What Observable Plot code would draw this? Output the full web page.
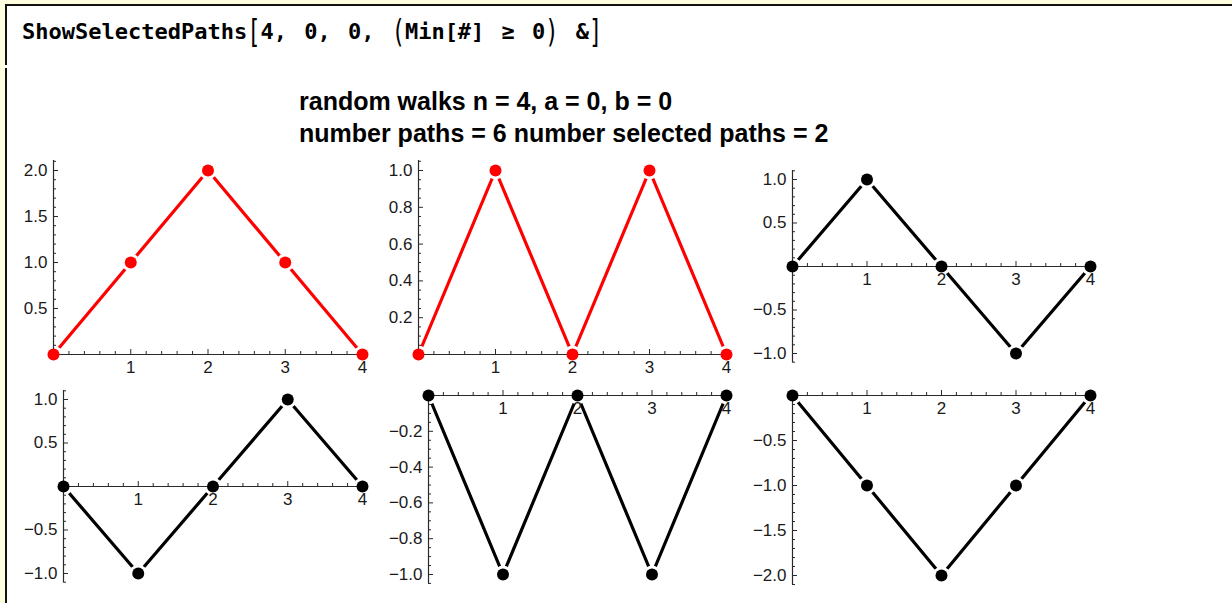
<!DOCTYPE html>
<html>
<head>
<meta charset="utf-8">
<script src="https://cdn.jsdelivr.net/npm/d3@7"></script>
<script src="https://cdn.jsdelivr.net/npm/@observablehq/plot@0.6"></script>
<style>
  body { margin: 0; background: #fff; }
  #page { position: relative; width: 1232px; height: 603px; overflow: hidden; background: #fff;
          font-family: "Liberation Sans", Arial, sans-serif; }
  .strip-top { position: absolute; left: 0; top: 0; width: 1232px; height: 4px; background: #fffde0; }
  .strip-left { position: absolute; left: 0; top: 0; width: 5px; height: 603px; background: #fffde0; }
  .rule-top { position: absolute; left: 5px; top: 4px; width: 1227px; height: 2px; background: #111; }
  .rule-left-a { position: absolute; left: 5px; top: 4px; width: 2px; height: 61px; background: #111; }
  .rule-left-b { position: absolute; left: 5px; top: 68px; width: 2px; height: 535px; background: #111; }
  #input { position: absolute; left: 22px; top: 19px; white-space: pre; color: #000; word-spacing: 4px;
           font: bold 22px "DejaVu Sans Mono", "Liberation Mono", monospace; }
  #input .br { display: inline-block; transform: scaleY(1.45); font-weight: normal; }
  #title { position: absolute; left: 299px; top: 85px; font: bold 25px "Liberation Sans", Arial, sans-serif;
           line-height: 32px; color: #000; white-space: pre; }
  .panel { position: absolute; }
</style>
</head>
<body>
<div id="page">
  <div class="strip-top"></div>
  <div class="strip-left"></div>
  <div class="rule-top"></div>
  <div class="rule-left-a"></div>
  <div class="rule-left-b"></div>
  <div id="input">ShowSelectedPaths<span class="br">[</span>4, 0, 0, <span class="br">(</span>Min[#] ≥ 0<span class="br">)</span> &amp;<span class="br">]</span></div>
  <div id="title">random walks n = 4, a = 0, b = 0
number paths = 6 number selected paths = 2</div>
</div>
<script>
// Steps of a walk of length 4 and the six walks drawn in the grid
const steps = [0, 1, 2, 3, 4];
const walkA = [0, 1, 2, 1, 0];
const walkB = [0, 1, 0, 1, 0];
const walkC = [0, 1, 0, -1, 0];
const walkD = [0, -1, 0, 1, 0];
const walkE = [0, -1, 0, -1, 0];
const walkF = [0, -1, -2, -1, 0];
const walks = [walkA, walkB, walkC, walkD, walkE, walkF];

// Walks that satisfy the selection rule Min[#] >= 0
const selected = [true, true, false, false, false, false];

// Tick labels
const xTickLabels = [1, 2, 3, 4];
const yTickLabels = [
  [0.5, 1.0, 1.5, 2.0],
  [0.2, 0.4, 0.6, 0.8, 1.0],
  [-1.0, -0.5, 0.5, 1.0],
  [-1.0, -0.5, 0.5, 1.0],
  [-1.0, -0.8, -0.6, -0.4, -0.2],
  [-2.0, -1.5, -1.0, -0.5]
];
const yMinorStep = [0.1, 0.05, 0.1, 0.1, 0.05, 0.1];

// Placement of each panel on the page (origin / extreme points in pixels)
const frames = [
  {left: 0,   top: 150, w: 368, h: 228, x0: 53,  x4: 362,  yTopPx: 170, yBotPx: 354, extUp: 10, extDown: 0},
  {left: 370, top: 150, w: 368, h: 228, x0: 418, x4: 726,  yTopPx: 170, yBotPx: 354, extUp: 10, extDown: 0},
  {left: 740, top: 150, w: 368, h: 228, x0: 792, x4: 1090, yTopPx: 179, yBotPx: 353, extUp: 9,  extDown: 9},
  {left: 0,   top: 378, w: 368, h: 225, x0: 63,  x4: 362,  yTopPx: 399, yBotPx: 573, extUp: 9,  extDown: 9},
  {left: 370, top: 378, w: 368, h: 225, x0: 428, x4: 726,  yTopPx: 395, yBotPx: 574, extUp: 0,  extDown: 9},
  {left: 740, top: 378, w: 368, h: 225, x0: 792, x4: 1090, yTopPx: 395, yBotPx: 575, extUp: 0,  extDown: 9}
];

const axisColor = "#2a2a2a";
const labelColor = "#1a1a1a";
const fmt = d => d.toFixed(1).replace("-", "\u2212");

function drawPanel(i) {
  const f = frames[i];
  const vals = walks[i];
  const data = steps.map((s, k) => ({step: s, value: vals[k]}));
  const color = selected[i] ? "#ff0000" : "#000000";
  const [ymin, ymax] = d3.extent(vals);
  const ppu = (f.yBotPx - f.yTopPx) / (ymax - ymin);
  const lo = ymin - f.extDown / ppu, hi = ymax + f.extUp / ppu;

  const majors = yTickLabels[i];
  const st = yMinorStep[i];
  const minorY = d3.range(Math.ceil(lo / st - 1e-6), Math.floor(hi / st + 1e-6) + 1)
    .map(k => +(k * st).toFixed(4))
    .filter(v => v !== 0 && !majors.some(m => Math.abs(m - v) < 1e-6));
  const minorX = d3.range(1, 20).map(k => +(k * 0.2).toFixed(4))
    .filter(v => Math.abs(v - Math.round(v)) > 1e-6);

  const svg = Plot.plot({
    width: f.w,
    height: f.h,
    marginLeft: f.x0 - f.left,
    marginRight: f.left + f.w - f.x4,
    marginTop: f.yTopPx - f.top,
    marginBottom: f.top + f.h - f.yBotPx,
    x: {domain: [0, 4], axis: null},
    y: {domain: [ymin, ymax], axis: null},
    style: {overflow: "visible", background: "transparent", fontFamily: "Liberation Sans, Arial, sans-serif"},
    marks: [
      Plot.line(data, {x: "step", y: "value", stroke: color, strokeWidth: 3.2, strokeLinecap: "butt"}),
      Plot.dot(data, {x: "step", y: "value", r: 9, fill: "white"}),
      // axes through the origin
      Plot.ruleY([0], {x1: 0, x2: 4, insetRight: -6, stroke: axisColor, strokeWidth: 1.2}),
      Plot.ruleX([0], {y1: ymin, y2: ymax, insetTop: f.extDown, insetBottom: f.extUp, stroke: axisColor, strokeWidth: 1.2}),
      // x ticks pointing up
      Plot.ruleX(minorX, {x: d => d, y1: 0, y2: 0, insetBottom: 3, stroke: axisColor}),
      Plot.ruleX(xTickLabels, {x: d => d, y1: 0, y2: 0, insetBottom: 5, stroke: axisColor}),
      // y ticks pointing right
      Plot.ruleY(minorY, {y: d => d, x1: 0, x2: 0, insetRight: -3, stroke: axisColor}),
      Plot.ruleY(majors, {y: d => d, x1: 0, x2: 0, insetRight: -5, stroke: axisColor}),
      Plot.text(xTickLabels, {x: d => d, y: 0, text: d => String(d), dy: 13, fontSize: 17, fill: labelColor}),
      Plot.text(majors, {x: 0, y: d => d, text: fmt, textAnchor: "end", dx: -6, fontSize: 17, fill: labelColor}),
      Plot.dot(data, {x: "step", y: "value", r: 6, fill: color})
    ]
  });
  svg.classList.add("panel");
  svg.style.left = f.left + "px";
  svg.style.top = f.top + "px";
  document.getElementById("page").appendChild(svg);
}

walks.forEach((_, i) => drawPanel(i));
</script>
</body>
</html>
